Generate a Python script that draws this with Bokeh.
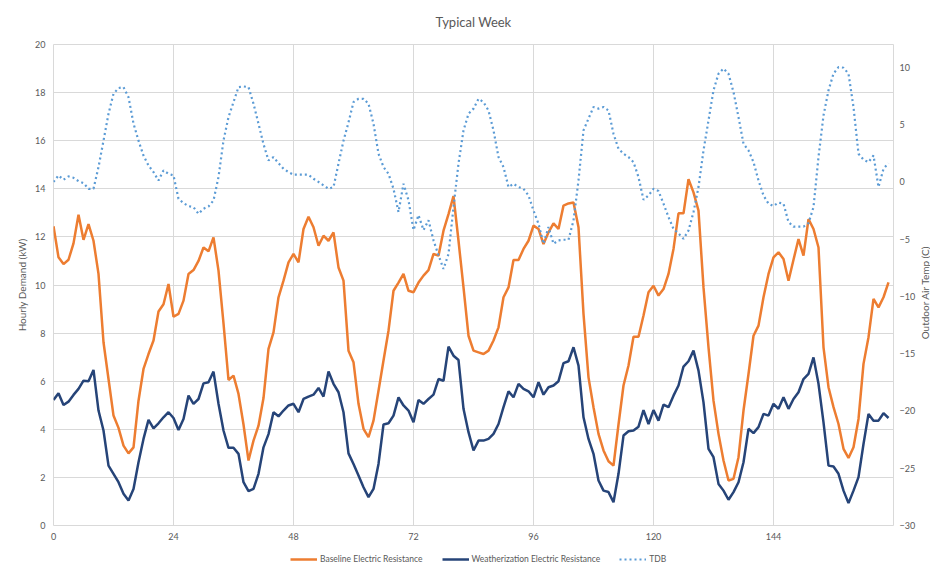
import math
from bokeh.plotting import figure
from bokeh.layouts import row, column
from bokeh.models import Range1d, LinearAxis, FixedTicker, Legend, LegendItem, Label
from bokeh.embed import file_html
from bokeh.resources import INLINE

hours = list(range(168))

baseline = [
    12.44, 11.15, 10.87, 11.05, 11.73, 12.92, 11.88, 12.53, 11.84, 10.46,
    7.62, 6.09, 4.57, 4.06, 3.32, 3.0, 3.25, 5.19, 6.51, 7.13,
    7.69, 8.9, 9.2, 10.04, 8.68, 8.8, 9.35, 10.46, 10.62, 11.0,
    11.56, 11.4, 11.98, 10.6, 8.4, 6.05, 6.23, 5.47, 4.2, 2.7,
    3.53, 4.15, 5.3, 7.34, 8.03, 9.49, 10.18, 10.94, 11.29, 10.94,
    12.33, 12.84, 12.4, 11.63, 12.05, 11.84, 12.19, 10.73, 10.18, 7.27,
    6.79, 5.06, 4.02, 3.67, 4.36, 5.6, 6.86, 8.1, 9.76, 10.1,
    10.46, 9.76, 9.7, 10.1, 10.39, 10.62, 11.29, 11.22, 12.26, 12.95,
    13.7, 11.84, 9.9, 7.89, 7.27, 7.2, 7.13, 7.27, 7.69, 8.24,
    9.49, 9.9, 11.04, 11.04, 11.5, 11.84, 12.47, 12.33, 11.7, 12.19,
    12.56, 12.33, 13.3, 13.39, 13.43, 12.4, 8.8, 6.16, 4.92, 3.81,
    3.12, 2.67, 2.49, 4.2, 5.82, 6.65, 7.85, 7.85, 8.73, 9.7,
    9.97, 9.56, 9.83, 10.46, 11.5, 12.98, 12.98, 14.4, 13.85, 13.09,
    9.9, 7.41, 5.19, 3.81, 2.7, 1.87, 1.94, 2.84, 4.78, 6.3,
    7.89, 8.31, 9.49, 10.46, 11.15, 11.36, 11.08, 10.18, 11.05, 11.91,
    11.22, 12.74, 12.33, 11.56, 7.41, 5.75, 4.92, 4.22, 3.19, 2.81,
    3.25, 4.43, 6.72, 7.83, 9.42, 9.07, 9.49, 10.11,
]

weatherization = [
    5.22, 5.5, 5.01, 5.15, 5.43, 5.68, 6.02, 6.0, 6.47, 4.78,
    3.95, 2.49, 2.15, 1.8, 1.32, 1.04, 1.52, 2.63, 3.6, 4.39,
    4.04, 4.25, 4.5, 4.71, 4.47, 3.97, 4.43, 5.4, 5.06, 5.26,
    5.91, 5.96, 6.4, 5.06, 3.95, 3.23, 3.23, 2.98, 1.8, 1.43,
    1.52, 2.15, 3.25, 3.8, 4.71, 4.54, 4.78, 4.99, 5.06, 4.71,
    5.26, 5.36, 5.44, 5.72, 5.36, 6.4, 5.89, 5.54, 4.71, 3.0,
    2.56, 2.08, 1.59, 1.18, 1.52, 2.56, 4.2, 4.25, 4.57, 5.33,
    4.99, 4.78, 4.29, 5.22, 5.06, 5.26, 5.44, 6.09, 6.02, 7.44,
    7.06, 6.88, 4.85, 3.88, 3.12, 3.53, 3.53, 3.6, 3.81, 4.22,
    4.92, 5.58, 5.33, 5.89, 5.68, 5.58, 5.33, 5.96, 5.44, 5.75,
    5.82, 6.0, 6.75, 6.83, 7.41, 6.65, 4.5, 3.6, 2.98, 1.87,
    1.45, 1.39, 0.97, 2.15, 3.74, 3.92, 3.95, 4.11, 4.8, 4.22,
    4.8, 4.36, 5.03, 4.92, 5.4, 5.82, 6.61, 6.83, 7.27, 6.44,
    5.12, 3.19, 2.84, 1.73, 1.45, 1.07, 1.39, 1.8, 2.63, 4.02,
    3.84, 4.09, 4.64, 4.57, 5.06, 4.85, 5.33, 4.85, 5.26, 5.54,
    6.09, 6.3, 6.99, 5.89, 4.29, 2.49, 2.45, 2.15, 1.45, 0.93,
    1.45, 2.01, 3.39, 4.64, 4.36, 4.36, 4.67, 4.47,
]

tdb = [
    0.0, 0.57, 0.19, 0.48, 0.36, 0.07, -0.1, -0.6, -0.6, 1.3,
    3.6, 5.95, 7.7, 8.2, 8.28, 7.4, 5.1, 3.6, 2.3, 1.44,
    0.86, 0.13, 1.0, 0.71, 0.57, -1.47, -1.85, -2.11, -2.2, -2.78,
    -2.34, -2.14, -1.62, 0.42, 3.62, 5.66, 6.97, 8.28, 8.34, 8.28,
    6.83, 5.08, 3.3, 1.88, 2.17, 1.64, 1.15, 0.86, 0.63, 0.63,
    0.63, 0.63, 0.28, 0.0, -0.3, -0.6, -0.45, 1.6, 3.6, 5.2,
    6.97, 7.26, 7.26, 6.83, 5.08, 2.46, 1.3, 0.71, -0.6, -2.63,
    -0.16, -1.6, -4.2, -2.9, -4.2, -3.35, -5.1, -6.4, -7.6, -6.3,
    -2.2, 1.6, 4.5, 5.95, 6.4, 7.26, 6.97, 6.24, 4.5, 2.17,
    1.3, -0.45, -0.16, -0.45, -0.6, -1.18, -2.5, -3.65, -5.4, -3.94,
    -5.4, -5.1, -5.05, -5.05, -3.36, 0.13, 4.5, 5.53, 6.54, 6.4,
    6.54, 6.24, 4.2, 2.9, 2.46, 2.17, 1.73, 0.42, -1.56, -1.18,
    -0.6, -0.8, -1.9, -3.07, -4.1, -4.5, -4.97, -4.24, -2.63, -0.45,
    2.75, 5.37, 8.0, 9.45, 9.9, 9.45, 7.85, 5.66, 3.33, 2.75,
    1.73, 0.13, -1.18, -1.9, -2.1, -1.8, -1.9, -3.5, -3.9, -3.9,
    -3.9, -3.6, -2.2, 2.17, 5.8, 8.0, 9.45, 10.03, 9.97, 9.45,
    6.54, 2.46, 1.94, 1.73, 2.31, -0.45, 1.15, 1.64,
]

x_ticks = [0, 24, 48, 72, 96, 120, 144]
left_ticks = [0, 2, 4, 6, 8, 10, 12, 14, 16, 18, 20]
right_ticks = [-30, -25, -20, -15, -10, -5, 0, 5, 10]
series_names = ["Baseline Electric Resistance",
                "Weatherization Electric Resistance", "TDB"]
chart_title = "Typical Week"
left_title = "Hourly Demand (kW)"
right_title = "Outdoor Air Temp (C)"

FONT = "Lato"
GRAY = "#595959"
GRID = "#d9d9d9"
C_BASE = "#ED7D31"
C_WEATH = "#264478"
C_TDB = "#5B9BD5"


def strip(width, height):
    f = figure(width=width, height=height, output_backend="svg",
               toolbar_location=None, x_range=Range1d(0, width),
               y_range=Range1d(0, height), x_axis_location=None,
               y_axis_location=None, min_border=0, min_border_left=0,
               min_border_right=0, min_border_top=0, min_border_bottom=0)
    f.grid.visible = False
    f.outline_line_color = None
    return f


# ---------------- title strip ----------------
title_fig = strip(930, 30)
title_fig.add_layout(Label(x=473, y=9, text=chart_title, text_align="center",
                           text_baseline="middle", text_font=FONT,
                           text_font_size="13px", text_color=GRAY))

# ---------------- main chart ----------------
main = figure(frame_width=840, frame_height=481, output_backend="svg",
              toolbar_location=None,
              x_range=Range1d(0, 168), y_range=Range1d(0, 20),
              min_border_left=53, min_border_right=20, min_border_top=14,
              min_border_bottom=22)
main.extra_y_ranges = {"temp": Range1d(-30, 12)}

main.line(hours, baseline, line_color=C_BASE, line_width=2.5)
main.line(hours, weatherization, line_color=C_WEATH, line_width=2.5)
main.line(hours, tdb, line_color=C_TDB, line_width=2.2, line_dash="2 3",
          y_range_name="temp")

main.xaxis.ticker = FixedTicker(ticks=x_ticks)
main.yaxis.ticker = FixedTicker(ticks=left_ticks)
main.yaxis.axis_label = left_title

right = LinearAxis(y_range_name="temp", ticker=FixedTicker(ticks=right_ticks))
main.add_layout(right, "right")

for ax in [main.xaxis[0], main.yaxis[0], right]:
    ax.axis_line_color = None
    ax.major_tick_line_color = None
    ax.minor_tick_line_color = None
    ax.major_tick_out = 0
    ax.major_tick_in = 0
    ax.major_label_text_color = GRAY
    ax.major_label_text_font = FONT
    ax.major_label_text_font_size = "9px"
    ax.axis_label_text_font = FONT
    ax.axis_label_text_font_size = "10px"
    ax.axis_label_text_font_style = "normal"
    ax.axis_label_text_color = GRAY

main.yaxis[0].major_label_standoff = 8
main.yaxis[0].axis_label_standoff = 4
right.major_label_standoff = 6
main.xaxis[0].major_label_standoff = 7

main.xgrid.ticker = FixedTicker(ticks=x_ticks)
main.xgrid.grid_line_color = GRID
main.ygrid.grid_line_color = GRID
main.outline_line_color = GRID

# ---------------- right axis title strip ----------------
label_fig = strip(17, 517)
label_fig.add_layout(Label(x=6, y=250.5, text=right_title,
                           angle=math.pi / 2, text_align="center",
                           text_baseline="middle", text_font=FONT,
                           text_font_size="10px", text_color=GRAY))

# ---------------- legend strip ----------------
leg_fig = strip(930, 22)
leg_fig.y_range = Range1d(1000, 1001)   # series lie outside: only legend glyphs show
g1 = leg_fig.line(hours, baseline, line_color=C_BASE, line_width=2.5)
g2 = leg_fig.line(hours, weatherization, line_color=C_WEATH, line_width=2.5)
g3 = leg_fig.line(hours, tdb, line_color=C_TDB, line_width=2.2, line_dash="2 3")

legend = Legend(items=[
    LegendItem(label=series_names[0], renderers=[g1]),
    LegendItem(label=series_names[1], renderers=[g2]),
    LegendItem(label=series_names[2], renderers=[g3]),
], orientation="horizontal", location=(290, 4),
   border_line_color=None, background_fill_alpha=0,
   label_text_font=FONT, label_text_font_size="8.5px", label_text_color=GRAY,
   glyph_width=27, glyph_height=10, spacing=19, label_standoff=3,
   padding=2, margin=0, label_height=12)
leg_fig.add_layout(legend)

p = column(title_fig, row(main, label_fig), leg_fig)

open("out.html", "w").write(file_html(p, INLINE))
